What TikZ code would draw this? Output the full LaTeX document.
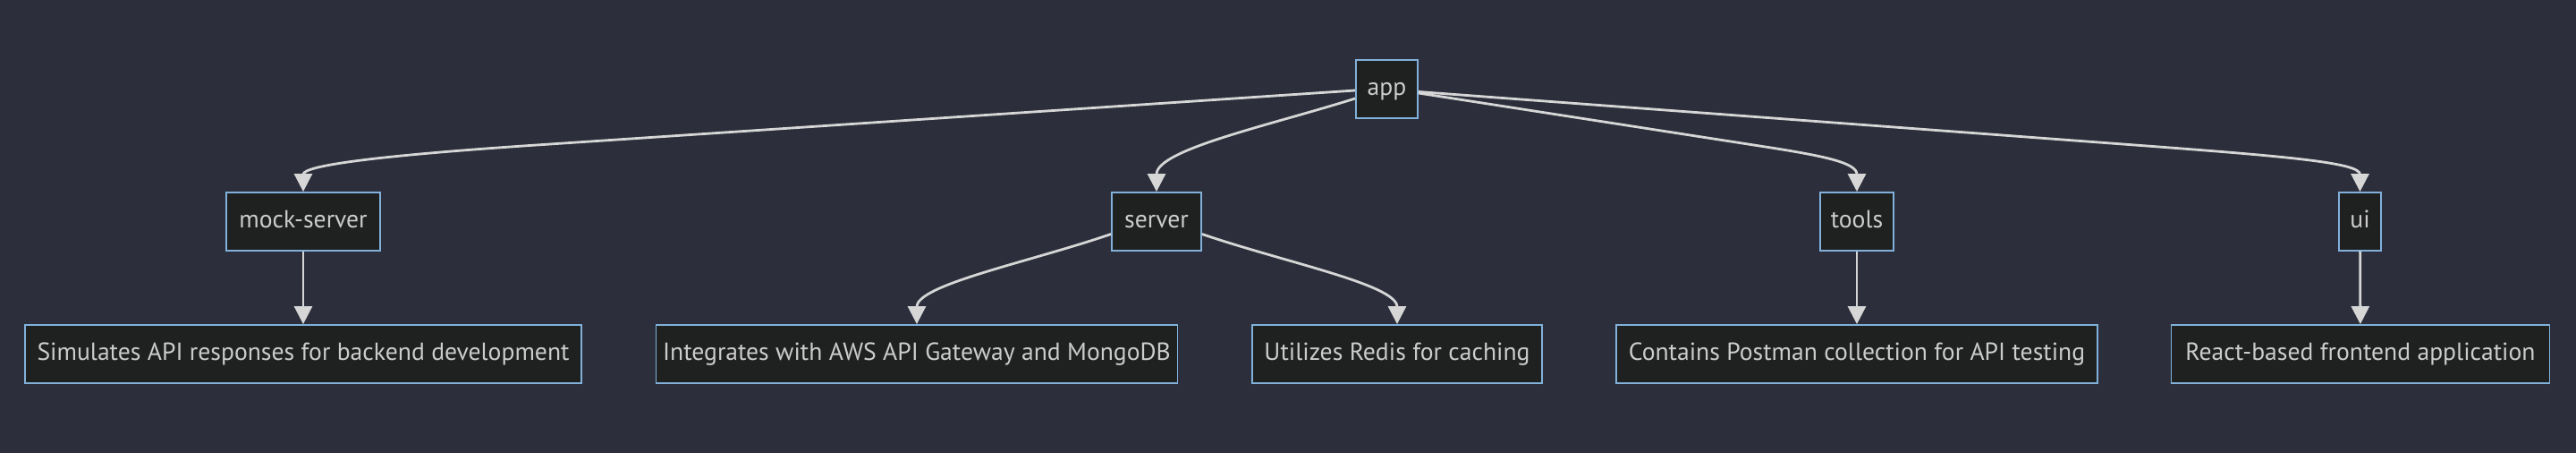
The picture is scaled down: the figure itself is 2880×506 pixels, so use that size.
\documentclass[tikz,border=0pt]{standalone}
\usepackage{fontspec}
\setmainfont{PT Sans}
\usetikzlibrary{arrows.meta,calc}
\definecolor{bg}{HTML}{2C2F3B}
\definecolor{nodefill}{HTML}{1F2020}
\definecolor{nodeborder}{HTML}{81B1DB}
\definecolor{txt}{HTML}{CCCCCC}
\definecolor{edgecol}{HTML}{D6D6D6}
\newlength\reflen
\begin{document}
\settowidth{\reflen}{\normalfont\fontsize{10pt}{12pt}\selectfont Simulates API responses for backend development}%
\pgfmathsetmacro{\labelsize}{10*297.5/\reflen}%
\pgfmathsetmacro{\lblht}{0.74*\labelsize}%
\pgfmathsetmacro{\lbldp}{0.24*\labelsize}%
\begin{tikzpicture}[x=0.5pt,y=-0.5pt]
\tikzset{
  box/.style={draw=nodeborder, line width=0.9pt, fill=nodefill, text=txt,
    inner sep=0pt, minimum height=32.5pt,
    text height=\lblht pt, text depth=\lbldp pt,
    font=\fontsize{\labelsize pt}{\labelsize pt}\selectfont},
  link/.style={draw=edgecol, line width=1.4pt,
    -{Triangle[width=10pt,length=10pt]}}
}
\path[fill=bg,use as bounding box] (0,0) rectangle (2880,506);

\node[box, minimum width=34.5pt] (app) at (1550.5,99.5) {app};
\node[box, minimum width=86pt] (mock) at (339,247.5) {mock-server};
\node[box, minimum width=50pt] (server) at (1293,247.5) {server};
\node[box, minimum width=41pt] (tools) at (2076,247.5) {tools};
\node[box, minimum width=23.5pt] (ui) at (2638.5,247.5) {ui};
\node[box, minimum width=311pt] (sim) at (339,395.5) {Simulates API responses for backend development};
\node[box, minimum width=291.5pt] (integ) at (1025,395.5) {Integrates with AWS API Gateway and MongoDB};
\node[box, minimum width=162pt] (util) at (1562,395.5) {Utilizes Redis for caching};
\node[box, minimum width=269pt] (cont) at (2076,395.5) {Contains Postman collection for API testing};
\node[box, minimum width=211.5pt] (react) at (2639,395.5) {React-based frontend application};

\draw[link] ($(app.west)+(0,1.5)$) -- (600,162) .. controls (420,174) and (339,185) .. (mock.north);
\draw[link] ($(app.west)+(0,10.5)$) .. controls (1420,140) and (1293,167) .. (server.north);
\draw[link] ($(app.east)+(0,4.5)$) -- (1980,165) .. controls (2040,174.5) and (2076,182) .. (tools.north);
\draw[link] ($(app.east)+(0,3)$) -- (2400,163) .. controls (2560,175) and (2638.5,182) .. (ui.north);
\draw[link] ($(server.west)+(0,14)$) .. controls (1150,293) and (1025,318) .. (integ.north);
\draw[link] ($(server.east)+(0,14)$) .. controls (1436,293) and (1562,318) .. (util.north);
\draw[link] (mock) -- (sim);
\draw[link] (tools) -- (cont);
\draw[link] (ui) -- (react);
\end{tikzpicture}
\end{document}
